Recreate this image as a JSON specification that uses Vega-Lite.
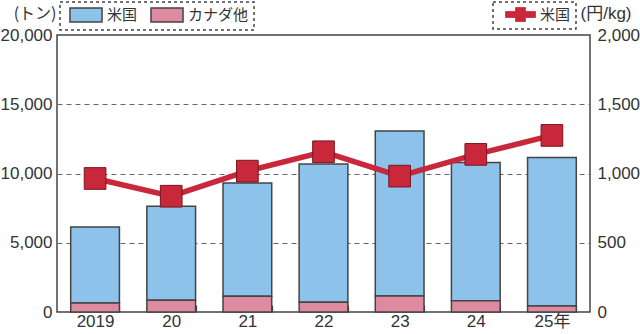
{
  "$schema": "https://vega.github.io/schema/vega-lite/v6.json",
  "width": 533,
  "height": 277,
  "autosize": {"type": "none"},
  "padding": {"left": 57, "top": 35, "right": 50, "bottom": 22},
  "background": "white",
  "config": {
    "view": {"stroke": "#444", "strokeWidth": 1.5},
    "font": "Liberation Sans, Noto Sans CJK JP"
  },
  "datasets": {
    "volume": [
      {"year": "2019", "series": "米国", "tons": 5490},
      {"year": "2019", "series": "カナダ他", "tons": 650},
      {"year": "20", "series": "米国", "tons": 6790},
      {"year": "20", "series": "カナダ他", "tons": 850},
      {"year": "21", "series": "米国", "tons": 8190},
      {"year": "21", "series": "カナダ他", "tons": 1130},
      {"year": "22", "series": "米国", "tons": 9980},
      {"year": "22", "series": "カナダ他", "tons": 700},
      {"year": "23", "series": "米国", "tons": 11900},
      {"year": "23", "series": "カナダ他", "tons": 1160},
      {"year": "24", "series": "米国", "tons": 9980},
      {"year": "24", "series": "カナダ他", "tons": 820},
      {"year": "25年", "series": "米国", "tons": 10730},
      {"year": "25年", "series": "カナダ他", "tons": 430}
    ],
    "price": [
      {"year": "2019", "series": "米国", "price": 964},
      {"year": "20", "series": "米国", "price": 836},
      {"year": "21", "series": "米国", "price": 1017},
      {"year": "22", "series": "米国", "price": 1157},
      {"year": "23", "series": "米国", "price": 981},
      {"year": "24", "series": "米国", "price": 1138},
      {"year": "25年", "series": "米国", "price": 1275}
    ]
  },
  "layer": [
    {
      "data": {"name": "volume"},
      "mark": {"type": "bar", "stroke": "#444", "strokeWidth": 1.5},
      "encoding": {
        "x": {
          "field": "year", "type": "nominal", "sort": null,
          "scale": {"paddingInner": 0.36, "paddingOuter": 0.18},
          "axis": {
            "title": null, "labelAngle": 0, "domain": false,
            "tickBand": "extent", "tickSize": -7, "tickColor": "#444", "tickWidth": 1.2,
            "labelPadding": 8, "labelFontSize": 17, "labelColor": "#333",
            "labelFont": "Liberation Sans, Noto Sans CJK JP"
          }
        },
        "y": {
          "field": "tons", "type": "quantitative", "stack": "zero",
          "scale": {"domain": [0, 20000], "nice": false},
          "axis": {
            "values": [0, 5000, 10000, 15000, 20000], "format": ",.0f",
            "domain": false, "ticks": false, "labelPadding": 5,
            "labelFontSize": 17, "labelColor": "#333",
            "grid": true, "gridDash": [5, 4], "gridWidth": 1,
            "gridColor": {"condition": {"test": "datum.value > 0 && datum.value < 20000", "value": "#666"}, "value": "transparent"},
            "title": "(トン)", "titleAngle": 0, "titleAlign": "right", "titleBaseline": "middle",
            "titleX": -1, "titleY": -22, "titleFontSize": 16, "titleFontWeight": "normal",
            "titleColor": "#333", "titleFont": "Noto Sans CJK JP"
          }
        },
        "fill": {
          "field": "series", "type": "nominal",
          "scale": {"domain": ["米国", "カナダ他"], "range": ["#8DC3EB", "#DE8BA1"]},
          "legend": {
            "title": null, "orient": "none", "legendX": 3, "legendY": -33,
            "direction": "horizontal",
            "symbolType": "M-2.29,-1H2.29V1H-2.29Z", "symbolSize": 196, "symbolOffset": 13,
            "symbolStrokeColor": "#444", "symbolStrokeWidth": 1.5,
            "labelFont": "Noto Sans CJK JP", "labelFontSize": 15, "labelColor": "#333",
            "labelOffset": 13, "columnPadding": 8, "padding": 5,
            "strokeColor": "#444",
            "encode": {"legend": {"update": {"strokeDash": {"value": [3, 3]}, "strokeWidth": {"value": 1.5}}}}
          }
        },
        "order": {"field": "series", "sort": "ascending"}
      }
    },
    {
      "data": {"name": "price"},
      "encoding": {
        "x": {"field": "year", "type": "nominal", "sort": null},
        "y": {
          "field": "price", "type": "quantitative",
          "scale": {"domain": [0, 2000], "nice": false},
          "axis": {
            "orient": "right", "values": [0, 500, 1000, 1500, 2000], "format": ",.0f",
            "domain": false, "ticks": false, "grid": false, "labelPadding": 7,
            "labelFontSize": 17, "labelColor": "#333",
            "title": "(円/kg)", "titleAngle": 0, "titleAlign": "left", "titleBaseline": "middle",
            "titleX": -10, "titleY": -22, "titleFontSize": 17, "titleFontWeight": "normal",
            "titleColor": "#333", "titleFont": "Liberation Sans, Noto Sans CJK JP"
          }
        }
      },
      "layer": [
        {
          "mark": {"type": "line", "strokeWidth": 5.5},
          "encoding": {
            "stroke": {
              "field": "series", "type": "nominal",
              "scale": {"domain": ["米国"], "range": ["#C8283A"]},
              "legend": {
                "title": null, "orient": "none", "legendX": 436, "legendY": -33,
                "symbolType": "M-2.14,-0.43H-0.71V-1H0.71V-0.43H2.14V0.43H0.71V1H-0.71V0.43H-2.14Z",
                "symbolSize": 196, "symbolOffset": 15, "symbolFillColor": "#C8283A", "symbolStrokeWidth": 0.8,
                "labelFont": "Noto Sans CJK JP", "labelFontSize": 15, "labelColor": "#333",
                "labelOffset": 12, "padding": 5, "strokeColor": "#444",
                "encode": {
                  "legend": {"update": {"strokeDash": {"value": [3, 3]}, "strokeWidth": {"value": 1.5}}},
                  "symbols": {"update": {"fill": {"value": "#C8283A"}, "stroke": {"value": "#8a1a24"}}}
                }
              }
            }
          }
        },
        {
          "mark": {"type": "point", "shape": "square", "filled": true, "size": 470, "fill": "#C8283A", "stroke": "#7a1520", "strokeWidth": 1, "opacity": 1}
        }
      ]
    }
  ],
  "resolve": {"scale": {"y": "independent"}}
}
